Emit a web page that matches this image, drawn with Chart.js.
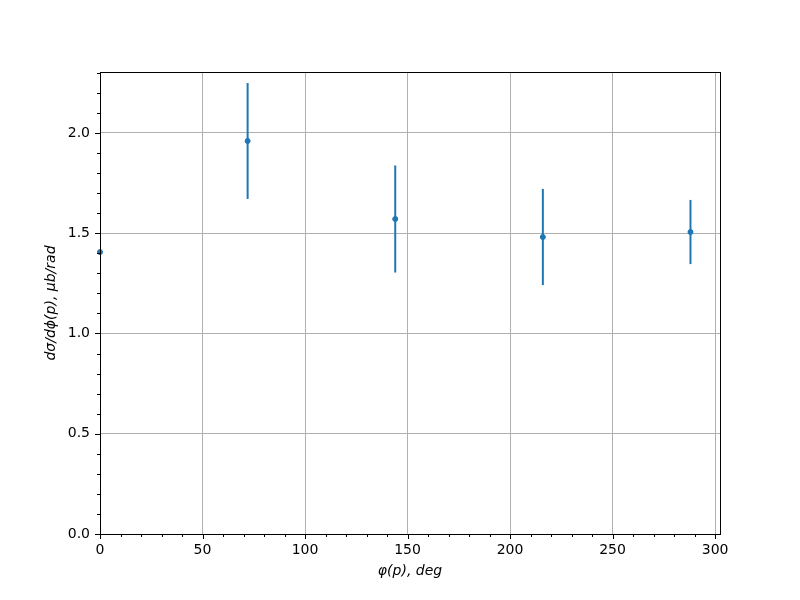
<!DOCTYPE html>
<html lang="en">
<head>
<meta charset="UTF-8">
<title>dσ/dϕ(p) vs φ(p)</title>
<script src="https://cdn.jsdelivr.net/npm/chart.js"></script>
<style>
  html, body { margin: 0; padding: 0; background: #fff; }
  #wrap { width: 800px; height: 600px; }
</style>
</head>
<body>
<div id="wrap"><canvas id="myChart"></canvas></div>
<script>
// data
const phi = [0, 72, 144, 216, 288];
const dsig = [1.406, 1.960, 1.571, 1.481, 1.506];
const errs = [null, 0.289, 0.267, 0.240, 0.160];   // first bar sits on the spine, not visible

const xTicks = [0, 50, 100, 150, 200, 250, 300];
const yTicks = [0, 0.5, 1.0, 1.5, 2.0];
const xMinorStep = 10;
const yMinorStep = 0.1;

const blue = '#1f77b4';
const font = { family: 'DejaVu Sans', size: 14 };

// error bars, tick marks and the frame
const extras = {
  id: 'extras',
  afterDatasetsDraw(chart) {
    const ctx = chart.ctx;
    const x = chart.scales.x, y = chart.scales.y;
    const a = chart.chartArea;

    ctx.save();
    ctx.strokeStyle = blue;
    ctx.lineWidth = 2;
    phi.forEach((p, i) => {
      if (errs[i] == null) return;
      const px = x.getPixelForValue(p);
      ctx.beginPath();
      ctx.moveTo(px, y.getPixelForValue(dsig[i] - errs[i]));
      ctx.lineTo(px, y.getPixelForValue(dsig[i] + errs[i]));
      ctx.stroke();
    });
    ctx.restore();

    ctx.save();
    ctx.strokeStyle = '#000';
    ctx.lineWidth = 1;
    // x ticks
    for (let v = 0; v <= x.max + 1e-9; v += xMinorStep) {
      const major = xTicks.includes(Math.round(v));
      const px = Math.round(x.getPixelForValue(v)) + 0.5;
      ctx.beginPath();
      ctx.moveTo(px, a.bottom);
      ctx.lineTo(px, a.bottom + (major ? 5 : 3));
      ctx.stroke();
    }
    // y ticks
    for (let k = 0; k * yMinorStep <= y.max + 1e-9; k++) {
      const v = k * yMinorStep;
      const major = k % 5 === 0;
      const py = Math.round(y.getPixelForValue(v)) + 0.5;
      ctx.beginPath();
      ctx.moveTo(a.left, py);
      ctx.lineTo(a.left - (major ? 5 : 3), py);
      ctx.stroke();
    }
    ctx.strokeRect(Math.round(a.left) + 0.5, Math.round(a.top) + 0.5,
                   Math.round(a.right - a.left), Math.round(a.bottom - a.top));
    ctx.restore();
  }
};

const ctx = document.getElementById('myChart').getContext('2d');
new Chart(ctx, {
  type: 'scatter',
  data: {
    datasets: [{
      data: phi.map((p, i) => ({ x: p, y: dsig[i] })),
      backgroundColor: blue,
      borderColor: blue,
      pointRadius: 2.5,
      pointHoverRadius: 2.5
    }]
  },
  options: {
    responsive: true,
    maintainAspectRatio: false,
    animation: false,
    clip: false,
    layout: { padding: { left: 0, top: 72, right: 80, bottom: 0 } },
    plugins: { legend: { display: false }, tooltip: { enabled: false } },
    scales: {
      x: {
        type: 'linear',
        min: 0,
        max: 302.4,
        afterFit: s => { s.height = 66; },
        afterBuildTicks: s => { s.ticks = xTicks.map(v => ({ value: v })); },
        grid: { color: '#b0b0b0', lineWidth: 1, drawTicks: false },
        border: { display: false },
        ticks: { font: font, color: '#000', padding: 8, maxRotation: 0, callback: v => String(v) },
        title: {
          display: true,
          text: 'φ(p), deg',
          font: { family: 'DejaVu Sans', size: 14, style: 'italic' },
          color: '#000',
          padding: { top: 0, bottom: 20 }
        }
      },
      y: {
        type: 'linear',
        min: 0,
        max: 2.304,
        afterFit: s => { s.width = 100; },
        afterBuildTicks: s => { s.ticks = yTicks.map(v => ({ value: v })); },
        grid: { color: '#b0b0b0', lineWidth: 1, drawTicks: false },
        border: { display: false },
        ticks: { font: font, color: '#000', padding: 10, callback: v => Number(v).toFixed(1) },
        title: {
          display: true,
          text: 'dσ/dϕ(p), μb/rad',
          font: { family: 'DejaVu Sans', size: 14, style: 'italic' },
          color: '#000',
          padding: { top: 43, bottom: 0 }
        }
      }
    }
  },
  plugins: [extras]
});
</script>
</body>
</html>
